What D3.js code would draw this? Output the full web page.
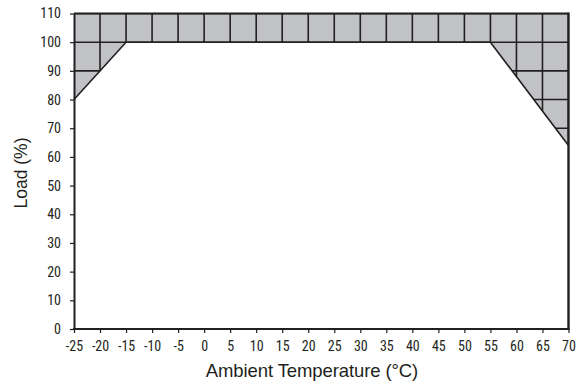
<!DOCTYPE html>
<html><head><meta charset="utf-8">
<script src="https://cdn.jsdelivr.net/npm/d3@7"></script>
<style>html,body{margin:0;padding:0;background:#fff}</style>
</head><body>
<svg id="c" width="579" height="381"></svg>
<script>
const xTicks = [-25,-20,-15,-10,-5,0,5,10,15,20,25,30,35,40,45,50,55,60,65,70];
const yTicks = [0,10,20,30,40,50,60,70,80,90,100,110];
const curveTemp = [-25,-15,55,70];
const curveLoad = [80,100,100,64];

const svg = d3.select("#c");
const x = d3.scaleLinear().domain([-25,70]).range([74,568.5]);
const y = d3.scaleLinear().domain([0,110]).range([329,13.5]);
const ink = "#231f20";
const tickFont = "'Liberation Sans Narrow','Roboto Condensed','Arial Narrow',sans-serif";

const pts = curveTemp.map((t,i)=>[x(t),y(curveLoad[i])]);
const polyPts = [[x(-25),y(110)], ...pts, [x(70),y(110)]];
svg.append("clipPath").attr("id","shade").append("polygon")
  .attr("points", polyPts.map(p=>p.join(",")).join(" "));
svg.append("polygon").attr("points", polyPts.map(p=>p.join(",")).join(" "))
  .attr("fill","#c1c2c6");
const g = svg.append("g").attr("clip-path","url(#shade)");
xTicks.forEach(t=>g.append("line").attr("x1",x(t)).attr("x2",x(t)).attr("y1",y(110)).attr("y2",y(0))
  .attr("stroke",ink).attr("stroke-width",1.6));
yTicks.forEach(v=>g.append("line").attr("x1",x(-25)).attr("x2",x(70)).attr("y1",y(v)).attr("y2",y(v))
  .attr("stroke",ink).attr("stroke-width",1.6));
svg.append("path").attr("d", d3.line()(pts)).attr("fill","none").attr("stroke",ink).attr("stroke-width",1.6);
svg.append("line").attr("x1",x(-25)).attr("x2",x(70)).attr("y1",y(110)).attr("y2",y(110)).attr("stroke",ink).attr("stroke-width",1.8);
svg.append("line").attr("x1",x(70)).attr("x2",x(70)).attr("y1",y(110)-1).attr("y2",y(0)).attr("stroke",ink).attr("stroke-width",2.4);

const fmt = d => String(d);
const xAxis = d3.axisBottom(x).tickValues(xTicks).tickFormat(fmt).tickSize(4).tickPadding(8).tickSizeOuter(0);
const yAxis = d3.axisLeft(y).tickValues(yTicks).tickFormat(fmt).tickSize(4).tickPadding(9).tickSizeOuter(0);
const gx = svg.append("g").attr("transform",`translate(0,${y(0)})`).call(xAxis);
const gy = svg.append("g").attr("transform",`translate(${x(-25)},0)`).call(yAxis);
[gx,gy].forEach(a=>{
  a.select(".domain").attr("stroke",ink).attr("stroke-width",2);
  a.selectAll(".tick line").attr("stroke",ink).attr("stroke-width",1.2);
  a.selectAll(".tick text").attr("fill",ink).style("font-family",tickFont).style("font-size","14px");
});
gx.select(".domain").attr("d",`M${x(-25)-1},0H${x(70)+1}`);

svg.append("text").attr("x",312).attr("y",377).attr("text-anchor","middle")
  .style("font-family","'Liberation Sans',Arial,sans-serif").style("font-size","18.5px").attr("fill",ink)
  .attr("letter-spacing","-0.1")
  .text("Ambient Temperature (°C)");
svg.append("text").attr("transform","translate(27,173) rotate(-90)").attr("text-anchor","middle")
  .style("font-family","'Liberation Sans',Arial,sans-serif").style("font-size","17.5px").attr("fill",ink)
  .text("Load (%)");
</script>
</body></html>
